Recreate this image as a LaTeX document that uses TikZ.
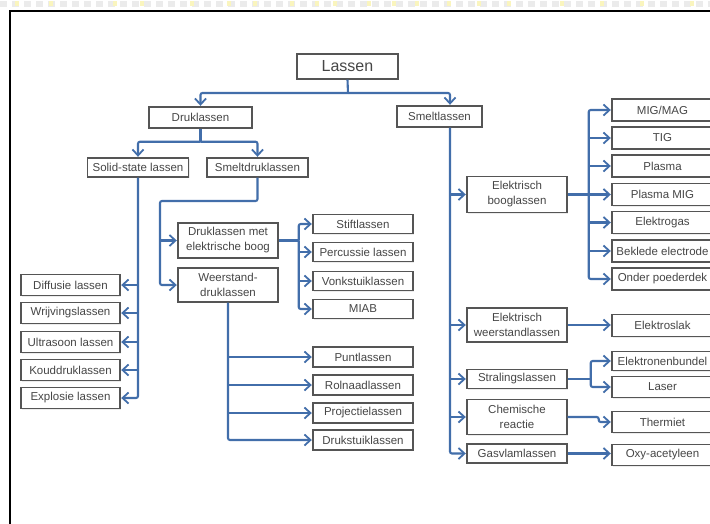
\documentclass[tikz,border=0pt]{standalone}
\usepackage{fontspec}
\setmainfont{Liberation Sans}
\usetikzlibrary{arrows.meta,calc,shadows}
\definecolor{connblue}{RGB}{66,110,170}
\definecolor{boxline}{RGB}{85,85,85}
\definecolor{txt}{RGB}{70,70,70}
\definecolor{stripgray}{RGB}{235,235,235}
\definecolor{stripyellow}{RGB}{250,245,190}
\tikzset{
  box/.style={draw=boxline, line width=1.4pt, fill=white, inner sep=0pt, align=center,
    text=txt, font=\fontsize{11.5}{15}\selectfont, minimum width=100pt, minimum height=20pt,
    drop shadow={shadow xshift=1pt,shadow yshift=-1pt,opacity=0.15}},
  conn/.style={draw=connblue, line width=2.1pt, rounded corners=2pt},
  arr/.style={conn, -{Straight Barb[length=6pt,width=11pt,line width=1.8pt]}, shorten >=0.5pt},
}
\begin{document}
\begin{tikzpicture}[x=1pt,y=-1pt]
\clip (0,0) rectangle (710,523);
\fill[white] (0,0) rectangle (710,523);
% top strip
\draw[stripgray, line width=6pt, dash pattern=on 7pt off 5pt] (0,4) -- (710,4);
\foreach \xx in {15,49,113,140,190,227,253,290,315,333,367,392,415,447,477,507,560,600,640,690}
  \fill[stripyellow] (\xx,1) rectangle ++(4,5);
% frame
\draw[black, line width=1.3pt] (10,530) -- (10,11) -- (720,11);

% nodes
\node[box, font=\fontsize{16}{18}\selectfont, minimum width=101pt, minimum height=25pt] (lassen) at (347.5,66.5) {Lassen};
\node[box, minimum width=103pt, minimum height=21pt] (druk) at (200.5,117.5) {Druklassen};
\node[box, minimum width=85pt, minimum height=21pt] (smelt) at (439.5,116.5) {Smeltlassen};
\node[box, minimum width=101pt, minimum height=19pt] (solid) at (138,167.5) {Solid-state lassen};
\node[box, minimum width=101pt, minimum height=19pt] (smeltdruk) at (257.5,167.5) {Smeltdruklassen};

\node[box, minimum width=99pt, minimum height=21pt] (diff) at (70.5,285) {Diffusie lassen};
\node[box, minimum width=99pt, minimum height=21pt] (wrij) at (70.5,313) {Wrijvingslassen};
\node[box, minimum width=99pt, minimum height=21pt] (ultra) at (70.5,342) {Ultrasoon lassen};
\node[box, minimum width=99pt, minimum height=21pt] (koud) at (70.5,370) {Kouddruklassen};
\node[box, minimum width=99pt, minimum height=21pt] (explo) at (70.5,398) {Explosie lassen};

\node[box, minimum height=35pt] (dmeb) at (228,240.5) {Druklassen met\\elektrische boog};
\node[box, minimum height=34pt] (weer) at (228,285) {Weerstand-\\druklassen};

\node[box, minimum height=19pt] (stift) at (363,224) {Stiftlassen};
\node[box, minimum height=19pt] (perc) at (363,252) {Percussie lassen};
\node[box, minimum height=19pt] (vonk) at (363,281) {Vonkstuiklassen};
\node[box, minimum height=19pt] (miab) at (363,309) {MIAB};

\node[box] (punt) at (363,357) {Puntlassen};
\node[box] (rol) at (363,385) {Rolnaadlassen};
\node[box] (proj) at (363,413) {Projectielassen};
\node[box] (drukst) at (363,440) {Drukstuiklassen};

\node[box, minimum height=36pt] (elbo) at (517,194.5) {Elektrisch\\booglassen};
\node[box, minimum height=34pt] (elwe) at (517,325) {Elektrisch\\weerstandlassen};
\node[box, minimum height=19pt] (stral) at (517,379) {Stralingslassen};
\node[box, minimum height=35pt] (chem) at (517,417) {Chemische\\reactie};
\node[box, minimum height=19pt] (gas) at (517,453.5) {Gasvlamlassen};

\node[box, minimum width=101pt, minimum height=22pt] (mig) at (662.5,110) {MIG/MAG};
\node[box, minimum width=101pt, minimum height=22pt] (tig) at (662.5,138) {TIG};
\node[box, minimum width=101pt, minimum height=22pt] (plasma) at (662.5,166) {Plasma};
\node[box, minimum width=101pt, minimum height=22pt] (plmig) at (662.5,194.5) {Plasma MIG};
\node[box, minimum width=101pt, minimum height=22pt] (elgas) at (662.5,222.5) {Elektrogas};
\node[box, minimum width=101pt, minimum height=22pt] (bekl) at (662.5,251) {Beklede electrode};
\node[box, minimum width=101pt, minimum height=22pt] (onder) at (662.5,279) {Onder poederdek};

\node[box, minimum width=101pt, minimum height=22pt] (eslak) at (662.5,325.5) {Elektroslak};
\node[box, minimum width=101pt, minimum height=19pt] (ebund) at (662.5,361) {Elektronenbundel};
\node[box, minimum width=101pt, minimum height=21pt] (laser) at (662.5,387) {Laser};
\node[box, minimum width=101pt, minimum height=21pt] (therm) at (662.5,422) {Thermiet};
\node[box, minimum width=101pt, minimum height=21pt] (oxy) at (662.5,455) {Oxy-acetyleen};

% connectors
\coordinate (j1) at (348,93);
\draw[conn] (lassen.south) -- (j1);
\draw[arr] (j1) -| (druk.north);
\draw[arr] (j1) -| ($(smelt.north)+(10.5,0)$);

\draw[conn] (druk.south) -- ++(0,13) coordinate (j2);
\draw[arr] (j2) -| (solid.north);
\draw[arr] (j2) -| (smeltdruk.north);

\draw[arr] (solid.south) |- (explo.east);
\foreach \n in {diff,wrij,ultra,koud}
  \draw[arr] (solid.south |- \n.east) -- (\n.east);

\coordinate (j3) at (160,201);
\draw[arr] (smeltdruk.south) |- (j3) |- (weer.west);
\draw[arr] (j3 |- dmeb.west) -- (dmeb.west);

\coordinate (j4) at ($(dmeb.east)+(20,0)$);
\draw[conn] (dmeb.east) -- (j4);
\draw[arr] (j4) |- (stift.west);
\draw[arr] (j4) |- (miab.west);
\foreach \n in {perc,vonk}
  \draw[arr] (j4 |- \n.west) -- (\n.west);

\draw[arr] (weer.south) |- (drukst.west);
\foreach \n in {punt,rol,proj}
  \draw[arr] (weer.south |- \n.west) -- (\n.west);

\coordinate (s0) at ($(smelt.south)+(10.5,0)$);
\draw[arr] (s0) |- (gas.west);
\foreach \n in {elbo,elwe,stral,chem}
  \draw[arr] (s0 |- \n.west) -- (\n.west);

\coordinate (j5) at ($(elbo.east)+(21,0)$);
\draw[arr] (elbo.east) -- (plmig.west);
\draw[arr] (j5) |- (mig.west);
\draw[arr] (j5) |- (onder.west);
\foreach \n in {tig,plasma,elgas,bekl}
  \draw[arr] (j5 |- \n.west) -- (\n.west);

\draw[arr] (elwe.east) -- (elwe.east -| eslak.west);

\coordinate (j6) at ($(stral.east)+(23,0)$);
\draw[conn] (stral.east) -- (j6);
\draw[arr] (j6) |- (ebund.west);
\draw[arr] (j6) |- (laser.west);

\draw[arr] (chem.east) -- ++(31,0) |- (therm.west);
\draw[arr] (gas.east) -- (gas.east -| oxy.west);
\end{tikzpicture}
\end{document}
